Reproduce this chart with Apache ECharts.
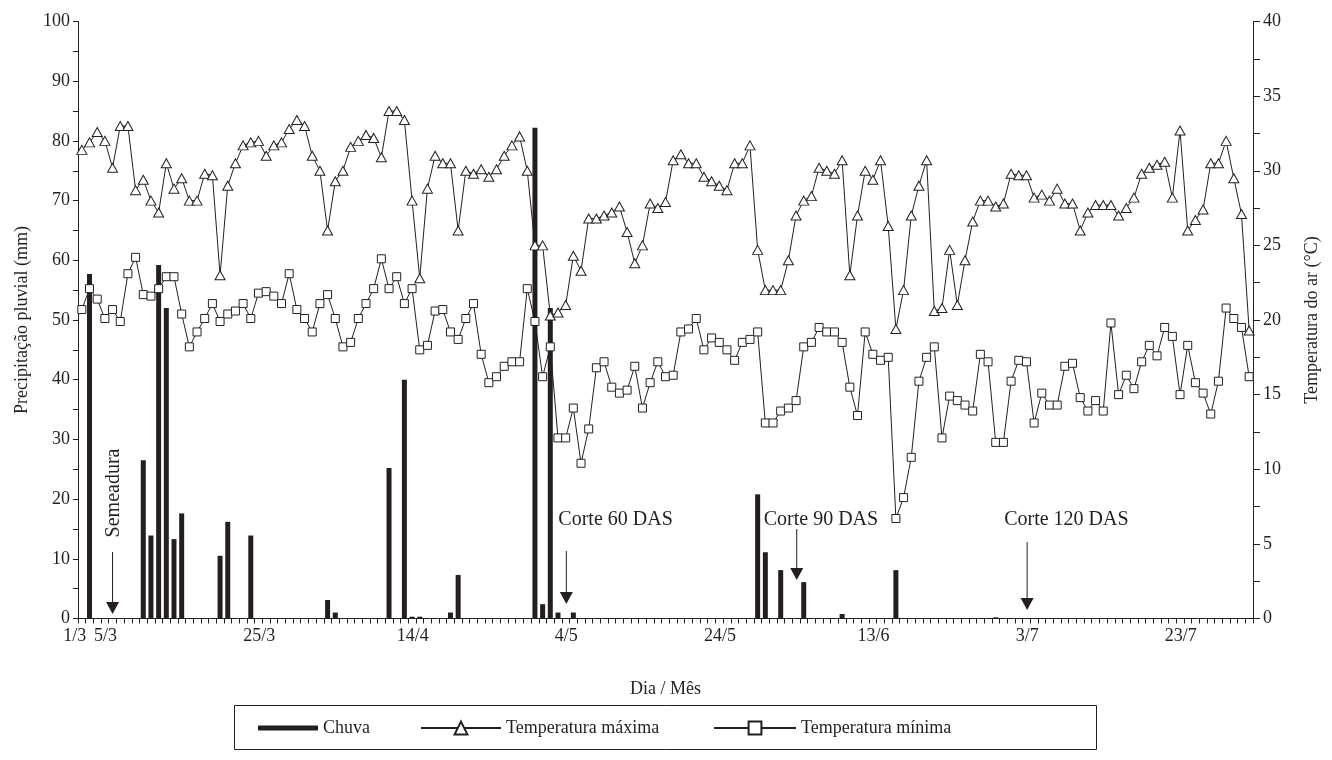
<!DOCTYPE html>
<html>
<head>
<meta charset="utf-8">
<script src="https://cdn.jsdelivr.net/npm/echarts@6/dist/echarts.min.js"></script>
<style>
  html, body { margin: 0; padding: 0; background: #fff; }
  #chart { width: 1332px; height: 760px; }
</style>
</head>
<body>
<div id="chart"></div>
<script>
// days 1/3 .. 31/7
const months = [3, 4, 5, 6, 7];
const monthLen = [31, 30, 31, 30, 31];
const tickDates = ['1/3', '5/3', '25/3', '14/4', '4/5', '24/5', '13/6', '3/7', '23/7'];

// rain (mm), one value per day
const rain = [
  0, 57.7, 0, 0, 0, 0, 0, 0, 26.5, 13.9, 59.2, 52.0, 13.3, 17.6, 0, 0, 0, 0, 10.5, 16.2,
  0, 0, 13.9, 0, 0, 0, 0, 0, 0, 0, 0, 0, 3.1, 1.0, 0, 0, 0, 0, 0, 0,
  25.2, 0, 40.0, 0.3, 0.3, 0, 0, 0, 1.0, 7.3, 0, 0, 0, 0, 0, 0, 0, 0, 0, 82.2,
  2.4, 52.0, 1.0, 0, 1.0, 0, 0, 0, 0, 0, 0, 0, 0, 0, 0, 0, 0, 0, 0, 0,
  0, 0, 0, 0, 0, 0, 0, 0, 20.8, 11.1, 0, 8.1, 0, 0, 6.1, 0, 0, 0, 0, 0.75,
  0, 0, 0, 0, 0, 0, 8.1, 0, 0, 0, 0, 0, 0, 0, 0, 0, 0, 0, 0, 0.2,
  0, 0, 0, 0, 0, 0, 0, 0, 0, 0, 0, 0, 0, 0, 0, 0, 0, 0, 0, 0,
  0, 0, 0, 0, 0, 0, 0, 0, 0, 0, 0, 0, 0
];

// maximum air temperature (°C)
const tmax = [
  31.4, 31.9, 32.6, 32.0, 30.2, 33.0, 33.0, 28.7, 29.4, 28.0, 27.2, 30.5, 28.8, 29.5, 28.0, 28.0, 29.8, 29.7, 23.0, 29.0,
  30.5, 31.7, 31.9, 32.0, 31.0, 31.7, 31.9, 32.8, 33.4, 33.0, 31.0, 30.0, 26.0, 29.3, 30.0, 31.6, 32.0, 32.4, 32.2, 30.9,
  34.0, 34.0, 33.4, 28.0, 22.8, 28.8, 31.0, 30.5, 30.5, 26.0, 30.0, 29.8, 30.1, 29.6, 30.1, 31.0, 31.7, 32.3, 30.0, 25.0,
  25.0, 20.3, 20.5, 21.0, 24.3, 23.3, 26.8, 26.8, 27.0, 27.2, 27.6, 25.9, 23.8, 25.0, 27.8, 27.5, 27.9, 30.7, 31.1, 30.5,
  30.5, 29.6, 29.3, 29.0, 28.7, 30.5, 30.5, 31.7, 24.7, 22.0, 22.0, 22.0, 24.0, 27.0, 28.0, 28.3, 30.2, 30.0, 29.8, 30.7,
  23.0, 27.0, 30.0, 29.4, 30.7, 26.3, 19.4, 22.0, 27.0, 29.0, 30.7, 20.6, 20.8, 24.7, 21.0, 24.0, 26.6, 28.0, 28.0, 27.6,
  27.8, 29.8, 29.7, 29.7, 28.2, 28.4, 28.0, 28.8, 27.8, 27.8, 26.0, 27.2, 27.7, 27.7, 27.7, 27.0, 27.5, 28.2, 29.8, 30.2,
  30.4, 30.6, 28.2, 32.7, 26.0, 26.7, 27.4, 30.5, 30.5, 32.0, 29.5, 27.1, 19.3
];

// minimum air temperature (°C)
const tmin = [
  20.7, 22.1, 21.4, 20.1, 20.7, 19.9, 23.1, 24.2, 21.7, 21.6, 22.1, 22.9, 22.9, 20.4, 18.2, 19.2, 20.1, 21.1, 19.9, 20.4,
  20.6, 21.1, 20.1, 21.8, 21.9, 21.6, 21.1, 23.1, 20.7, 20.1, 19.2, 21.1, 21.7, 20.1, 18.2, 18.5, 20.1, 21.1, 22.1, 24.1,
  22.1, 22.9, 21.1, 22.1, 18.0, 18.3, 20.6, 20.7, 19.2, 18.7, 20.1, 21.1, 17.7, 15.8, 16.2, 16.9, 17.2, 17.2, 22.1, 19.9,
  16.2, 18.2, 12.1, 12.1, 14.1, 10.4, 12.7, 16.8, 17.2, 15.5, 15.1, 15.3, 16.9, 14.1, 15.8, 17.2, 16.2, 16.3, 19.2, 19.4,
  20.1, 18.0, 18.8, 18.5, 18.0, 17.3, 18.5, 18.7, 19.2, 13.1, 13.1, 13.9, 14.1, 14.6, 18.2, 18.5, 19.5, 19.2, 19.2, 18.5,
  15.5, 13.6, 19.2, 17.7, 17.3, 17.5, 6.7, 8.1, 10.8, 15.9, 17.5, 18.2, 12.1, 14.9, 14.6, 14.3, 13.9, 17.7, 17.2, 11.8,
  11.8, 15.9, 17.3, 17.2, 13.1, 15.1, 14.3, 14.3, 16.9, 17.1, 14.8, 13.9, 14.6, 13.9, 19.8, 15.0, 16.3, 15.4, 17.2, 18.3,
  17.6, 19.5, 18.9, 15.0, 18.3, 15.8, 15.1, 13.7, 15.9, 20.8, 20.1, 19.5, 16.2
];

const annotDates = ['5/3', '4/5', '3/6', '3/7'];
const annotTexts = ['Semeadura', 'Corte 60 DAS', 'Corte 90 DAS', 'Corte 120 DAS'];

const dates = [];
months.forEach(function (m, k) {
  for (let d = 1; d <= monthLen[k]; d++) dates.push(d + '/' + m);
});

const ink = '#231f20';
const font = 'Liberation Serif';
const txt = { fontFamily: font, fontSize: 18, color: ink };

const chart = echarts.init(document.getElementById('chart'));

const option = {
  animation: false,
  backgroundColor: '#fff',
  grid: { left: 78, right: 79, top: 21.5, bottom: 141.5 },
  xAxis: {
    type: 'category',
    data: dates,
    boundaryGap: true,
    axisLine: { lineStyle: { color: ink, width: 1 } },
    axisTick: { show: true, interval: 0, length: 5, lineStyle: { color: ink } },
    axisLabel: Object.assign({
      interval: function (i, v) { return tickDates.indexOf(v) >= 0; },
      margin: 9,
      padding: [0, 14, 0, 0]
    }, txt),
    name: 'Dia / Mês',
    nameLocation: 'middle',
    nameGap: 62,
    nameTextStyle: txt
  },
  yAxis: [
    {
      type: 'value', min: 0, max: 100, interval: 5, position: 'left',
      axisLine: { show: true, lineStyle: { color: ink } },
      axisTick: { show: true, length: 5, lineStyle: { color: ink } },
      splitLine: { show: false },
      axisLabel: Object.assign({
        margin: 8,
        formatter: function (v) { return v % 10 === 0 ? v : ''; }
      }, txt),
      name: 'Precipitação pluvial (mm)',
      nameLocation: 'middle', nameRotate: 90, nameGap: 47,
      nameTextStyle: txt
    },
    {
      type: 'value', min: 0, max: 40, interval: 2.5, position: 'right',
      axisLine: { show: true, lineStyle: { color: ink } },
      axisTick: { show: true, length: 7, lineStyle: { color: ink } },
      splitLine: { show: false },
      axisLabel: Object.assign({
        margin: 10,
        formatter: function (v) { return v % 5 === 0 ? v : ''; }
      }, txt),
      name: 'Temperatura do ar (°C)',
      nameLocation: 'middle', nameRotate: 90, nameGap: 50,
      nameTextStyle: txt
    }
  ],
  legend: [
    {
      data: ['Chuva'], left: 258, top: 719, padding: 0, itemWidth: 60, itemHeight: 5,
      icon: 'rect', itemGap: 0, textStyle: txt
    },
    {
      data: ['Temperatura máxima'], left: 420, top: 719, padding: 0, itemWidth: 80, itemHeight: 16,
      itemGap: 0, textStyle: txt
    },
    {
      data: ['Temperatura mínima'], left: 713, top: 719, padding: 0, itemWidth: 82, itemHeight: 16,
      itemGap: 0, textStyle: txt
    }
  ],
  series: [
    {
      name: 'Chuva', type: 'bar', yAxisIndex: 0, data: rain,
      barWidth: 5, itemStyle: { color: ink }
    },
    {
      name: 'Temperatura máxima', type: 'line', yAxisIndex: 1, data: tmax,
      symbol: 'triangle', symbolSize: [10, 9], showAllSymbol: true,
      lineStyle: { color: ink, width: 1 },
      itemStyle: { color: '#fff', borderColor: ink, borderWidth: 1 }
    },
    {
      name: 'Temperatura mínima', type: 'line', yAxisIndex: 1, data: tmin,
      symbol: 'rect', symbolSize: 8, showAllSymbol: true,
      lineStyle: { color: ink, width: 1 },
      itemStyle: { color: '#fff', borderColor: ink, borderWidth: 1 }
    }
  ]
};

chart.setOption(option);

// annotation arrows, placed from the category axis
const annotLayout = [
  { dx: 0, textDx: 1, textY: 493, vertical: true, lineTop: 552, tip: 614 },
  { dx: -7, textDx: -8, textY: 520, lineTop: 551, tip: 604 },
  { dx: -7, textDx: -33, textY: 520, lineTop: 529, tip: 580 },
  { dx: -7, textDx: -23, textY: 520, lineTop: 542, tip: 610 }
];

const graphics = [];
annotDates.forEach(function (d, k) {
  const L = annotLayout[k];
  const x = chart.convertToPixel({ xAxisIndex: 0 }, d) + L.dx;
  graphics.push({
    type: 'line', silent: true,
    shape: { x1: x, y1: L.lineTop, x2: x, y2: L.tip - 11 },
    style: { stroke: ink, lineWidth: 1 }
  });
  graphics.push({
    type: 'polygon', silent: true,
    shape: { points: [[x - 6.5, L.tip - 12], [x + 6.5, L.tip - 12], [x, L.tip]] },
    style: { fill: ink }
  });
  graphics.push({
    type: 'text', silent: true, x: x + L.textDx, y: L.textY,
    rotation: L.vertical ? Math.PI / 2 : 0,
    style: {
      text: annotTexts[k], font: '20px "Liberation Serif"', fill: ink,
      align: L.vertical ? 'center' : 'left', verticalAlign: 'middle'
    }
  });
});

// legend frame
graphics.push({
  type: 'rect', silent: true,
  shape: { x: 234.5, y: 705.5, width: 862, height: 44 },
  style: { fill: null, stroke: ink, lineWidth: 1 }
});

chart.setOption({ graphic: graphics });
</script>
</body>
</html>
